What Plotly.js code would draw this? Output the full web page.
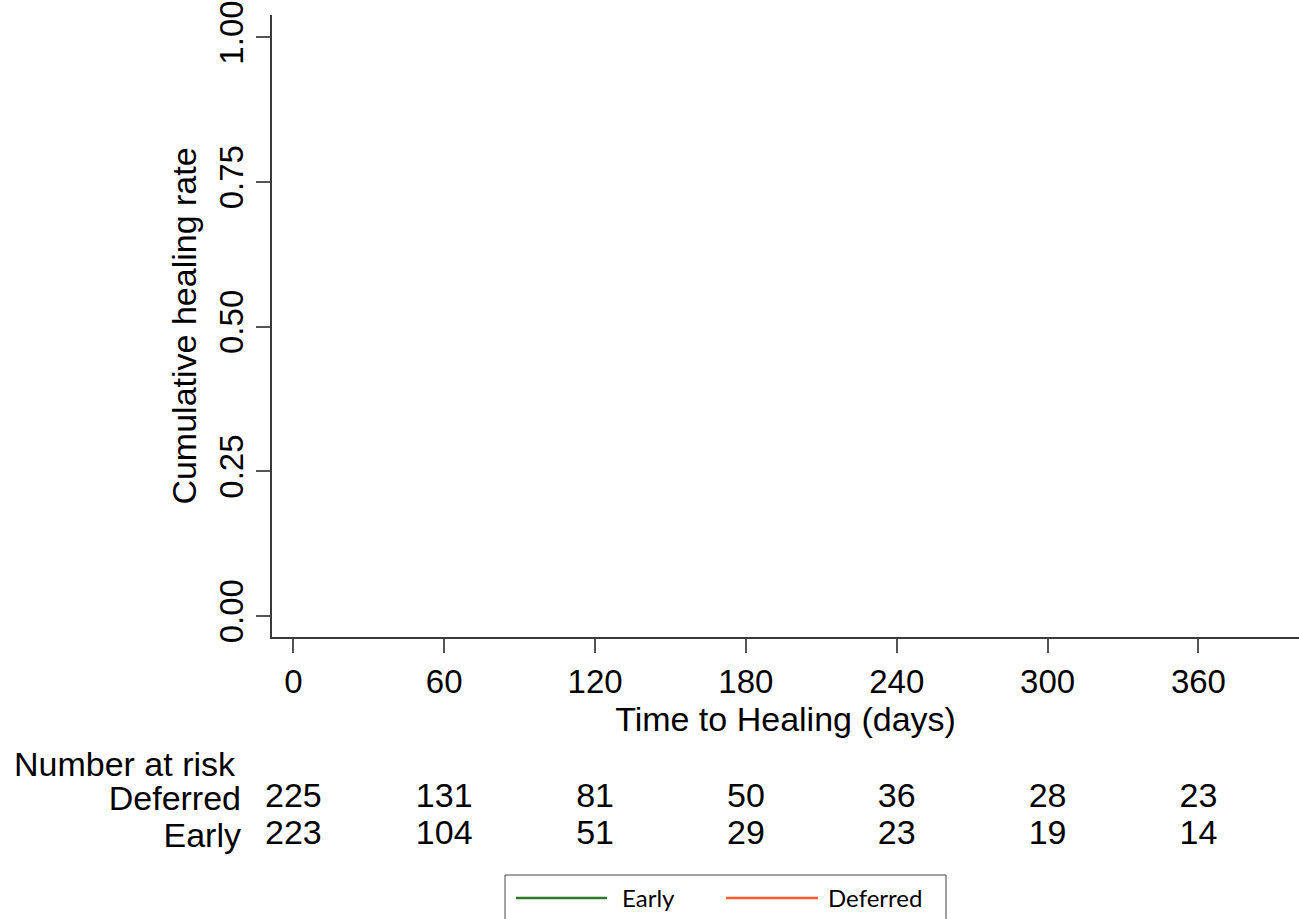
<!DOCTYPE html>
<html>
<head>
<meta charset="utf-8">
<script src="https://cdn.plot.ly/plotly-3.0.1.min.js"></script>
<style>html,body{margin:0;padding:0;background:#fff;}#chart{width:1299px;height:919px;}</style>
</head>
<body>
<div id="chart"></div>
<script>
// Curves: none are drawn in the reference picture
const earlyTime = [];
const earlyRate = [];
const deferredTime = [];
const deferredRate = [];

// Number-at-risk table
const riskTimes = [0, 60, 120, 180, 240, 300, 360];
const riskDeferred = [225, 131, 81, 50, 36, 28, 23];
const riskEarly = [223, 104, 51, 29, 23, 19, 14];
const riskGroups = ['Early', 'Deferred'];

const yTicks = [0, 0.25, 0.5, 0.75, 1];
const yTickText = ['0.00', '0.25', '0.50', '0.75', '1.00'];
const xTicks = [0, 60, 120, 180, 240, 300, 360];

const legendNames = ['Early', 'Deferred'];
const legendColors = ['#2a7a2a', '#ff5a2a'];

const FONT = 'Liberation Sans, Arial, sans-serif';
const LEGFONT = 'Lato, Liberation Sans, sans-serif';

const traces = [
  {x: earlyTime, y: earlyRate, name: legendNames[0], type: 'scatter', mode: 'lines', showlegend: false,
   line: {color: legendColors[0], width: 3, shape: 'hv'}},
  {x: deferredTime, y: deferredRate, name: legendNames[1], type: 'scatter', mode: 'lines', showlegend: false,
   line: {color: legendColors[1], width: 3, shape: 'hv'}},
  {x: riskTimes, y: riskTimes.map(() => 'Deferred'), text: riskDeferred.map(String),
   type: 'scatter', mode: 'text', yaxis: 'y2', showlegend: false, hoverinfo: 'skip',
   cliponaxis: false, textposition: 'middle center', textfont: {family: FONT, size: 34, color: '#000'}},
  {x: riskTimes, y: riskTimes.map(() => 'Early'), text: riskEarly.map(String),
   type: 'scatter', mode: 'text', yaxis: 'y2', showlegend: false, hoverinfo: 'skip',
   cliponaxis: false, textposition: 'middle center', textfont: {family: FONT, size: 34, color: '#000'}}
];

// Manual legend box (paper coordinates)
const legY = -0.0462;
const legLineX = [[0.2376, 0.3262], [0.4421, 0.5317]];
const legTextX = [0.3389, 0.5394];
const shapes = [
  {type: 'rect', xref: 'paper', yref: 'paper', x0: 0.2269, x1: 0.6563, y0: -0.01896, y1: -0.09,
   line: {color: '#444', width: 1}, fillcolor: 'rgba(0,0,0,0)'}
];
const annotations = [
  {text: 'Number at risk', xref: 'paper', yref: 'paper', x: -0.2532, y: 0.1126,
   xanchor: 'left', yanchor: 'middle', showarrow: false, font: {family: FONT, size: 34, color: '#000'}}
];
legendNames.forEach((n, i) => {
  shapes.push({type: 'line', xref: 'paper', yref: 'paper', x0: legLineX[i][0], x1: legLineX[i][1],
    y0: legY, y1: legY, line: {color: legendColors[i], width: 2.5}});
  annotations.push({text: n, xref: 'paper', yref: 'paper', x: legTextX[i], y: legY,
    xanchor: 'left', yanchor: 'middle', showarrow: false, font: {family: LEGFONT, size: 24, color: '#000'}});
});

const layout = {
  width: 1299, height: 919,
  margin: {l: 272, r: 0, t: 15, b: 60},
  paper_bgcolor: '#fff', plot_bgcolor: '#fff',
  font: {family: FONT, color: '#000'},
  showlegend: false,
  xaxis: {
    range: [-8.5, 400], tickvals: xTicks, showgrid: false, zeroline: false,
    showline: true, linecolor: '#3a3a3a', linewidth: 2,
    ticks: 'outside', ticklen: 14, tickwidth: 2, tickcolor: '#555',
    tickfont: {family: FONT, size: 33, color: '#000'},
    title: {text: 'Time to Healing (days)', font: {family: FONT, size: 34, color: '#000'}, standoff: 4},
    anchor: 'y'
  },
  yaxis: {
    domain: [0.26303, 1], range: [-0.036, 1.0388],
    tickvals: yTicks, ticktext: yTickText, tickangle: -90,
    showgrid: false, zeroline: false,
    showline: true, linecolor: '#3a3a3a', linewidth: 2,
    ticks: 'outside', ticklen: 14, tickwidth: 2, tickcolor: '#555',
    tickfont: {family: FONT, size: 33, color: '#000'},
    title: {text: 'Cumulative healing rate', font: {family: FONT, size: 34, color: '#000'}, standoff: 6},
    anchor: 'x'
  },
  yaxis2: {
    domain: [0.00681, 0.0933], type: 'category', categoryarray: riskGroups,
    tickmode: 'array', tickvals: riskGroups, ticktext: riskGroups,
    range: [-0.5, 1.5], anchor: 'x', showline: false, showgrid: false, zeroline: false,
    ticks: '', ticklabelstandoff: 30, tickfont: {family: FONT, size: 34, color: '#000'}
  },
  shapes: shapes,
  annotations: annotations
};

Plotly.newPlot('chart', traces, layout, {displayModeBar: false, staticPlot: true});
</script>
</body>
</html>
